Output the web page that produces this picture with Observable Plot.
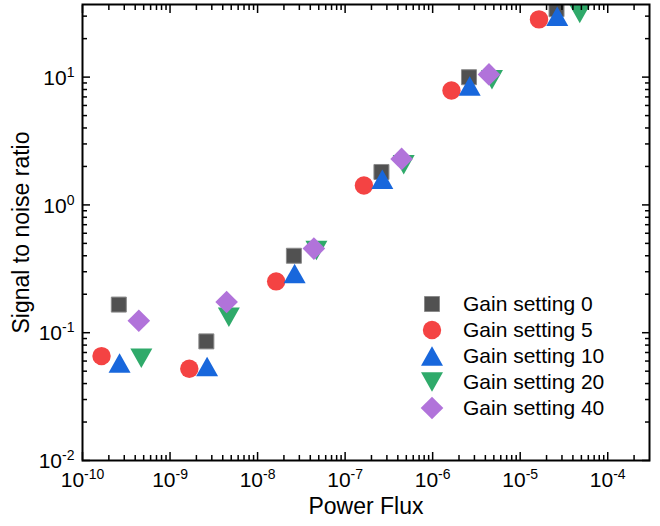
<!DOCTYPE html>
<html>
<head>
<meta charset="utf-8">
<script src="https://cdn.jsdelivr.net/npm/d3@7"></script>
<script src="https://cdn.jsdelivr.net/npm/@observablehq/plot@0.6"></script>
<style>
  html, body { margin: 0; padding: 0; background: #fff; }
  #wrap { position: relative; width: 660px; height: 526px; font-family: "Liberation Sans", Arial, sans-serif; }
  #legend { position: absolute; left: 420px; top: 291px; }
  .row { display: flex; align-items: center; height: 26px; line-height: 26px; font-size: 21px; color: #000; }
  .row svg { width: 24px; height: 26px; margin-right: 19px; overflow: visible; }
</style>
</head>
<body>
<div id="wrap"><div id="legend"></div></div>
<script>
// ---- data ----
const seriesNames = ["Gain setting 0", "Gain setting 5", "Gain setting 10", "Gain setting 20", "Gain setting 40"];
const colors = ["#515151", "#F44343", "#1867DC", "#2FAA6A", "#B173DA"];

const fluxGain0  = [2.6e-10, 2.6e-9, 2.6e-8, 2.6e-7, 2.6e-6, 2.6e-5];
const snrGain0   = [0.166, 0.0855, 0.40, 1.81, 9.98, 34];
const fluxGain5  = [1.65e-10, 1.66e-9, 1.63e-8, 1.64e-7, 1.64e-6, 1.64e-5];
const snrGain5   = [0.0656, 0.0523, 0.252, 1.42, 7.85, 28.3];
const fluxGain10 = [2.65e-10, 2.65e-9, 2.65e-8, 2.66e-7, 2.65e-6, 2.65e-5];
const snrGain10  = [0.058, 0.0545, 0.29, 1.59, 8.53, 30];
const fluxGain20 = [4.7e-10, 4.7e-9, 4.7e-8, 4.67e-7, 4.76e-6, 4.79e-5];
const snrGain20  = [0.063, 0.132, 0.44, 2.06, 9.55, 31.5];
const fluxGain40 = [4.4e-10, 4.43e-9, 4.4e-8, 4.42e-7, 4.4e-6];
const snrGain40  = [0.124, 0.174, 0.455, 2.29, 10.5];

const xMajorTicks = [1e-10, 1e-9, 1e-8, 1e-7, 1e-6, 1e-5, 1e-4];
const yMajorTicks = [1e-2, 1e-1, 1, 10];
const xDomain = [1e-10, 3e-4];
const yDomain = [0.01, 37];

// ---- symbols (Origin-like) ----
const symSquare = {draw(c) { c.rect(-7.5, -7.5, 15, 15); }};
const symCircle = {draw(c) { c.moveTo(9.2, 0); c.arc(0, 0, 9.2, 0, 2 * Math.PI); c.closePath(); }};
const symUp = {draw(c) { c.moveTo(0, -9.75); c.lineTo(11, 9.75); c.lineTo(-11, 9.75); c.closePath(); }};
const symDown = {draw(c) { c.moveTo(0, 9.75); c.lineTo(11, -9.75); c.lineTo(-11, -9.75); c.closePath(); }};
const symDiamond = {draw(c) { c.moveTo(0, -11.3); c.lineTo(11.3, 0); c.lineTo(0, 11.3); c.lineTo(-11.3, 0); c.closePath(); }};
const symbols = [symSquare, symCircle, symUp, symDown, symDiamond];

const xs = [fluxGain0, fluxGain5, fluxGain10, fluxGain20, fluxGain40];
const ys = [snrGain0, snrGain5, snrGain10, snrGain20, snrGain40];
const series = xs.map((xv, k) => xv.map((x, i) => ({x, y: ys[k][i], s: seriesNames[k]})));

const minorTicks = (lo, hi) => d3.range(Math.floor(Math.log10(lo)), Math.ceil(Math.log10(hi)))
  .flatMap(e => d3.range(2, 10).map(m => m * Math.pow(10, e))).filter(v => v >= lo && v <= hi);
const xMinorTicks = minorTicks(...xDomain);
const yMinorTicks = minorTicks(...yDomain);

const supFmt = d => "10^" + Math.round(Math.log10(d));
const noLabel = () => "";
const tickOpts = {strokeWidth: 1.5, label: null, tickFormat: noLabel};

const plot = Plot.plot({
  width: 660, height: 526,
  marginLeft: 82, marginRight: 11, marginTop: 4, marginBottom: 66,
  x: {type: "log", domain: xDomain},
  y: {type: "log", domain: yDomain},
  style: {fontFamily: "'Liberation Sans', Arial, sans-serif", background: "white", color: "black"},
  marks: [
    ...series.map((d, k) => Plot.dot(d, {
      x: "x", y: "y", r: 10, symbol: symbols[k], fill: colors[k],
      stroke: k === 0 ? "#8a8a8a" : "none", strokeWidth: 1, clip: true
    })),
    Plot.axisX(xMajorTicks, {...tickOpts, anchor: "bottom", tickSize: -8}),
    Plot.axisX(xMinorTicks, {...tickOpts, anchor: "bottom", tickSize: -5}),
    Plot.axisX(xMajorTicks, {...tickOpts, anchor: "top", tickSize: -8}),
    Plot.axisX(xMinorTicks, {...tickOpts, anchor: "top", tickSize: -5}),
    Plot.axisY(yMajorTicks, {...tickOpts, anchor: "left", tickSize: -8}),
    Plot.axisY(yMinorTicks, {...tickOpts, anchor: "left", tickSize: -5}),
    Plot.axisY(yMajorTicks, {...tickOpts, anchor: "right", tickSize: -8}),
    Plot.axisY(yMinorTicks, {...tickOpts, anchor: "right", tickSize: -5}),
    Plot.frame({stroke: "black", strokeWidth: 2}),
    // tick labels
    Plot.text(xMajorTicks, {x: d => d, frameAnchor: "bottom", lineAnchor: "top", textAnchor: "middle", dy: 12, text: supFmt, fontSize: 21, fill: "black"}),
    Plot.text(yMajorTicks, {y: d => d, frameAnchor: "left", lineAnchor: "middle", textAnchor: "end", dx: -8, dy: 1, text: supFmt, fontSize: 21, fill: "black"}),
    // axis titles
    Plot.text(["Power Flux"], {frameAnchor: "bottom", lineAnchor: "middle", textAnchor: "middle", dy: 46, fontSize: 23, fill: "black"}),
    Plot.text(["Signal to noise ratio"], {frameAnchor: "left", lineAnchor: "middle", textAnchor: "middle", rotate: -90, dx: -61, fontSize: 23, fill: "black"})
  ]
});

// render superscript exponents as real text with a raised tspan
d3.select(plot).selectAll("text").each(function() {
  const t = this.textContent;
  if (t.startsWith("10^")) {
    const exp = t.slice(3);
    this.textContent = "10";
    d3.select(this).append("tspan").attr("dy", -8).style("font-size", "14px").text(exp);
  }
});

document.getElementById("wrap").prepend(plot);

// legend
const legend = d3.select("#legend");
seriesNames.forEach((name, k) => {
  const row = legend.append("div").attr("class", "row");
  const p = d3.path();
  symbols[k].draw(p);
  row.append("svg").append("path")
    .attr("transform", "translate(12,13)")
    .attr("d", p.toString())
    .attr("fill", colors[k])
    .attr("stroke", k === 0 ? "#8a8a8a" : "none");
  row.append("span").text(name);
});
</script>
</body>
</html>
